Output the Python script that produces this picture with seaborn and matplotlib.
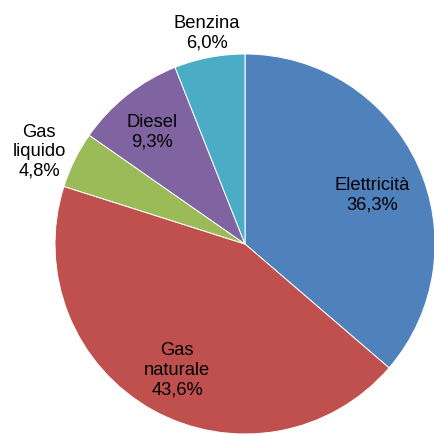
import numpy as np
import matplotlib.pyplot as plt
import seaborn as sns

# Data
categories = ["Elettricità", "Gas\nnaturale", "Gas\nliquido", "Diesel", "Benzina"]
shares = [36.3, 43.6, 4.8, 9.3, 6.0]
colors = ["#4F81BD", "#C0504D", "#9BBB59", "#8064A2", "#4BACC6"]

sns.set_theme(style="white")
plt.rcParams['font.family'] = ['Liberation Sans', 'DejaVu Sans']

fig = plt.figure(figsize=(4.34, 4.35), dpi=100)
ax = fig.add_axes([0, 0, 1, 1])

cx, cy, R = 245, 190, 190
wedges, _ = ax.pie(shares, startangle=90, counterclock=False, colors=colors,
                   center=(cx, cy), radius=R, frame=True,
                   wedgeprops=dict(edgecolor='white', linewidth=0.7))
ax.set_xlim(0, 434)
ax.set_ylim(0, 435)
ax.set_aspect('equal')
ax.axis('off')

# label distance (fraction of radius) and small angle tweaks per slice
label_dist = [0.72, 0.75, 1.19, 0.77, 1.13]
angle_shift = [-3.5, 0.8, 1.9, 1.2, -0.6]

for w, name, val, d, da in zip(wedges, categories, shares, label_dist, angle_shift):
    mid = np.deg2rad((w.theta1 + w.theta2) / 2 + da)
    x = cx + d * R * np.cos(mid)
    y = cy + d * R * np.sin(mid)
    txt = f"{name}\n{val:.1f}%".replace('.', ',')
    ax.text(x, y, txt, ha='center', va='center', fontsize=13.2,
            color='black', linespacing=1.2)

fig.savefig("out.png", dpi=100)
